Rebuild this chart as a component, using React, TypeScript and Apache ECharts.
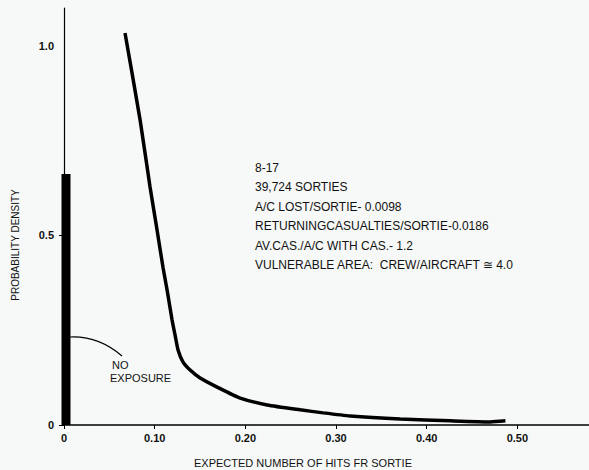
import React, { useEffect, useRef } from "react";
import * as echarts from "echarts";

// Curve: expected number of hits per sortie vs probability density
const curveX = [0.0673, 0.0839, 0.0949, 0.1026, 0.1093, 0.1137, 0.1192, 0.1225, 0.1258, 0.1313, 0.1391, 0.1501, 0.1689, 0.1943, 0.2241, 0.2605, 0.2859, 0.3157, 0.3709, 0.426, 0.4702, 0.4868];
const curveY = [1.034, 0.805, 0.628, 0.515, 0.414, 0.356, 0.277, 0.237, 0.198, 0.166, 0.145, 0.124, 0.1, 0.071, 0.053, 0.04, 0.032, 0.024, 0.016, 0.011, 0.008, 0.011];

// "No exposure" spike at zero
const spikeX = 0.0022;
const spikeHeight = 0.662;

const xTicks = [0, 0.1, 0.2, 0.3, 0.4, 0.5];
const yTicks = [0, 0.5, 1.0];
const yTickMarks = [0, 0.5];

const infoLines = [
  "8-17",
  "39,724 SORTIES",
  "A/C LOST/SORTIE- 0.0098",
  "RETURNINGCASUALTIES/SORTIE-0.0186",
  "AV.CAS./A/C WITH CAS.- 1.2",
  "VULNERABLE AREA:  CREW/AIRCRAFT \u2245 4.0",
];

const FONT = '"Liberation Sans", Arial, sans-serif';

export default function App() {
  const ref = useRef<HTMLDivElement>(null);
  useEffect(() => {
    if (!ref.current) return;
    const chart = echarts.init(ref.current, undefined, { renderer: "svg" });
    const curve = curveX.map((x, i) => [x, curveY[i]]);
    const option: any = {
      animation: false,
      backgroundColor: "#f7f9f8",
      grid: { left: 64, right: 0, top: 8, bottom: 45 },
      xAxis: {
        type: "value",
        min: 0,
        max: 0.579,
        splitLine: { show: false },
        axisLine: { show: true, lineStyle: { color: "#000", width: 1.5 } },
        axisTick: { show: true, length: 4, lineStyle: { color: "#000" }, customValues: xTicks },
        axisLabel: {
          color: "#111",
          fontSize: 11,
          fontWeight: "bold",
          fontFamily: FONT,
          margin: 7,
          customValues: xTicks,
          formatter: (v: number) => (v === 0 ? "0" : v.toFixed(2)),
        },
      },
      yAxis: {
        type: "value",
        min: 0,
        max: 1.1,
        splitLine: { show: false },
        axisLine: { show: true, lineStyle: { color: "#000", width: 1.2 } },
        axisTick: { show: true, length: 5, lineStyle: { color: "#000" }, customValues: yTickMarks },
        axisLabel: {
          color: "#111",
          fontSize: 11,
          fontWeight: "bold",
          fontFamily: FONT,
          margin: 10,
          customValues: yTicks,
          formatter: (v: number) => (v === 0 ? "0" : v.toFixed(1)),
        },
      },
      series: [
        {
          type: "line",
          data: curve,
          showSymbol: false,
          symbol: "none",
          smooth: 0.2,
          lineStyle: { color: "#000", width: 3.5 },
        },
        {
          type: "line",
          data: [
            [spikeX, 0],
            [spikeX, spikeHeight],
          ],
          symbol: "none",
          lineStyle: { color: "#000", width: 9, cap: "butt" },
        },
      ],
      graphic: [
        {
          type: "group",
          children: infoLines.map((t, i) => ({
            type: "text",
            x: 255,
            y: 168 + i * 19.4,
            style: {
              text: t,
              fill: "#111",
              font: `12px ${FONT}`,
              verticalAlign: "middle",
              align: "left",
            },
          })),
        },
        {
          type: "bezierCurve",
          shape: { x1: 70, y1: 337, cpx1: 90, cpy1: 336, cpx2: 108, cpy2: 344, x2: 122, y2: 356 },
          style: { stroke: "#000", lineWidth: 1.2, fill: "none" },
        },
        {
          type: "text",
          x: 112,
          y: 365,
          style: { text: "NO", fill: "#111", font: `11px ${FONT}`, verticalAlign: "middle" },
        },
        {
          type: "text",
          x: 110,
          y: 378,
          style: { text: "EXPOSURE", fill: "#111", font: `11px ${FONT}`, verticalAlign: "middle" },
        },
        {
          type: "text",
          x: 303,
          y: 463,
          style: {
            text: "EXPECTED NUMBER OF HITS FR SORTIE",
            fill: "#111",
            font: `11px ${FONT}`,
            align: "center",
            verticalAlign: "middle",
          },
        },
        {
          type: "text",
          x: 15,
          y: 245,
          rotation: Math.PI / 2,
          style: {
            text: "PROBABILITY DENSITY",
            fill: "#111",
            font: `10px ${FONT}`,
            align: "center",
            verticalAlign: "middle",
          },
        },
      ],
    };
    chart.setOption(option);
    return () => chart.dispose();
  }, []);
  return (
    <div
      ref={ref}
      style={{ position: "absolute", left: 0, top: 0, width: 589, height: 470 }}
    />
  );
}
